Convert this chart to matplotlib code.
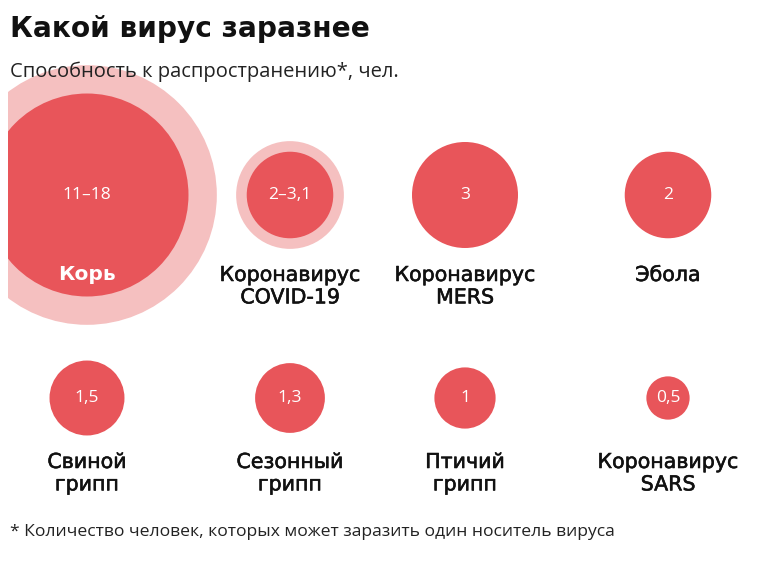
## Какой вирус заразнее - bubble chart ##

import numpy as np
import matplotlib.pyplot as plt
import matplotlib.patheffects as pe
from matplotlib.patches import Circle

# data

names = ["Корь", "Коронавирус\nCOVID-19", "Коронавирус\nMERS", "Эбола",
         "Свиной\nгрипп", "Сезонный\nгрипп", "Птичий\nгрипп", "Коронавирус\nSARS"]
low = [11, 2, 3, 2, 1.5, 1.3, 1, 0.5]     # lower estimate
high = [18, 3.1, 3, 2, 1.5, 1.3, 1, 0.5]  # upper estimate
value_labels = ["11–18", "2–3,1", "3", "2", "1,5", "1,3", "1", "0,5"]

title = "Какой вирус заразнее"
subtitle = "Способность к распространению*, чел."
footnote = "* Количество человек, которых может заразить один носитель вируса"

# layout (pixels)

col_x = [87, 290, 465, 668]
row_y = [195, 398]
label_top = [265, 452]   # top of first label line per row
k = 30.6                 # radius = k*sqrt(value)

inner_col = "#e8555a"
outer_col = "#f5c0c0"
txt_font = ["DejaVu Sans"]
num_font = ["Open Sans", "DejaVu Sans"]
thick = [pe.withStroke(linewidth=0.4, foreground="#111111")]

fig = plt.figure(figsize=(7.58, 5.65), dpi=100)
ax = fig.add_axes([8/758, 0, 750/758, 1])
ax.set_xlim(8, 758)
ax.set_ylim(565, 0)
ax.axis("off")

for i, name in enumerate(names):
    row, col = divmod(i, 4)
    cx, cy = col_x[col], row_y[row]
    if high[i] != low[i]:
        ax.add_patch(Circle((cx, cy), k*np.sqrt(high[i]), color=outer_col, lw=0))
    ax.add_patch(Circle((cx, cy), k*np.sqrt(low[i]), color=inner_col, lw=0))
    ax.text(cx, cy, value_labels[i], color="white", ha="center", va="center",
            fontsize=12.5, family=num_font)
    if i == 0:
        ax.text(cx, 275, name, color="white", ha="center", va="center",
                fontsize=14.5, fontweight="bold", family=txt_font)
    else:
        ax.text(cx, label_top[row], name, color="#111111", ha="center",
                va="top", fontsize=14.8, family=txt_font, linespacing=1.15,
                path_effects=thick)

fig.text(10/758, 1 - 29/565, title, fontsize=20.2, fontweight="bold",
         family=["DejaVu Sans"], va="center", color="#111111")
fig.text(10/758, 1 - 72/565, subtitle, fontsize=14.5, family=num_font,
         va="center", color="#222222")
fig.text(10/758, 1 - 532/565, footnote, fontsize=12.6, family=num_font,
         va="center", color="#222222")

fig.savefig("out.png", dpi=100)
